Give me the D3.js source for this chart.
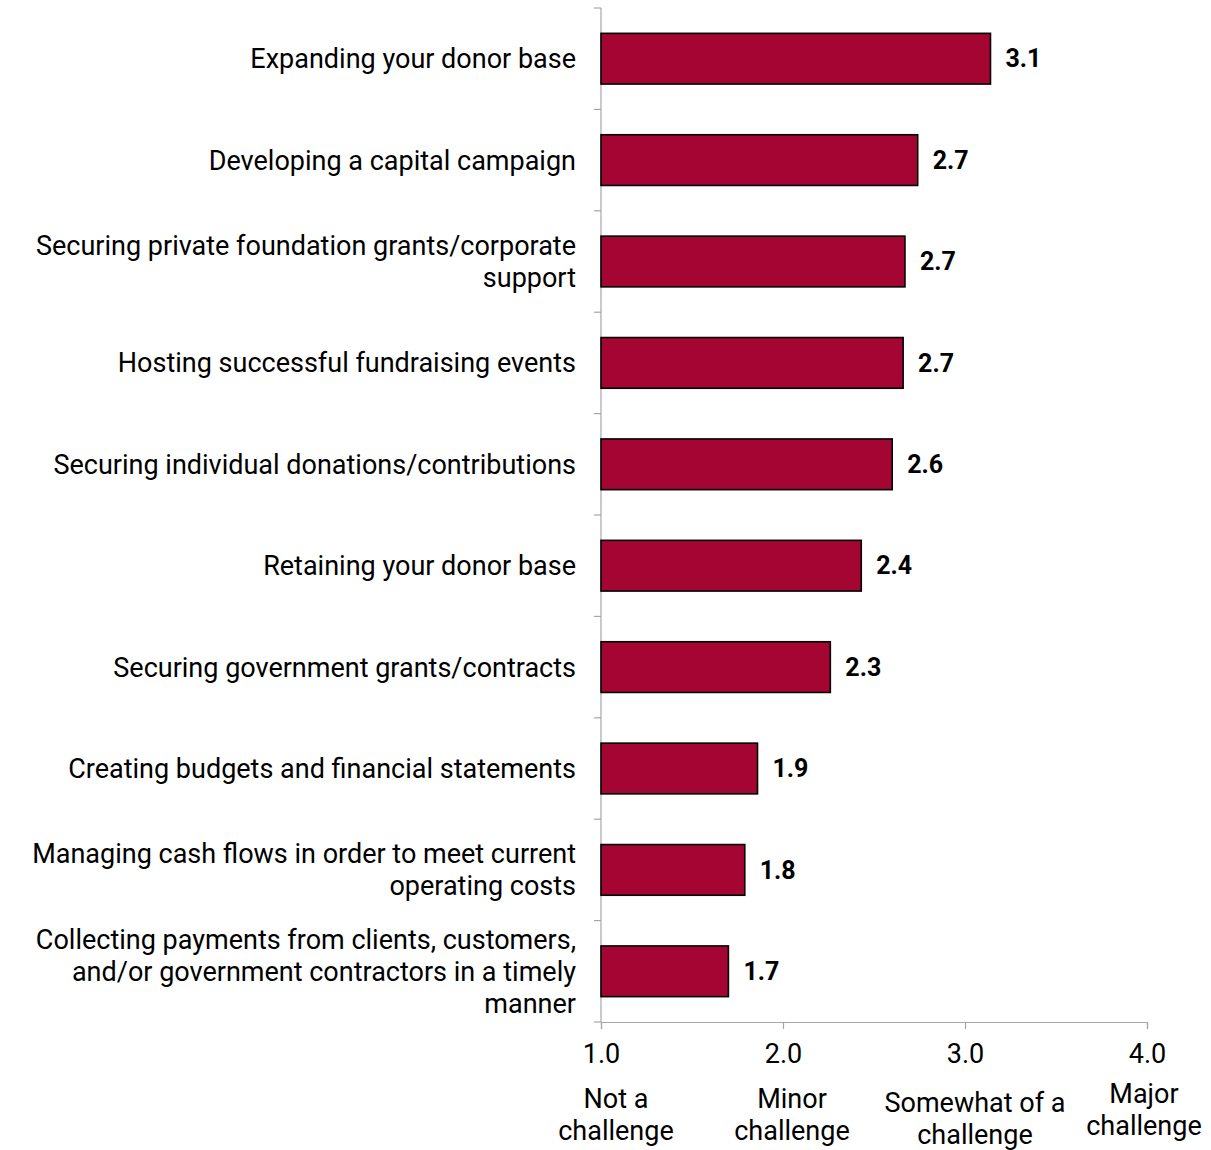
<!DOCTYPE html>
<html>
<head>
<meta charset="utf-8">
<script src="https://cdn.jsdelivr.net/npm/d3@7"></script>
<style>
  body { margin: 0; background: #fff; }
  text { font-family: Roboto, "Noto Sans", sans-serif; fill: #000; }
</style>
</head>
<body>
<div id="chart"></div>
<script>
// Data
const categories = [
    ["Expanding your donor base"],
    ["Developing a capital campaign"],
    ["Securing private foundation grants/corporate", "support"],
    ["Hosting successful fundraising events"],
    ["Securing individual donations/contributions"],
    ["Retaining your donor base"],
    ["Securing government grants/contracts"],
    ["Creating budgets and financial statements"],
    ["Managing cash flows in order to meet current", "operating costs"],
    ["Collecting payments from clients, customers,", "and/or government contractors in a timely", "manner"]
];
const values = [3.14, 2.74, 2.67, 2.66, 2.60, 2.43, 2.26, 1.86, 1.79, 1.70];
const xTicks = [1, 2, 3, 4];
const scaleLabels = [["Not a", "challenge"], ["Minor", "challenge"], ["Somewhat of a", "challenge"], ["Major", "challenge"]];

// layout tweaks for the scale descriptions under the axis
const scaleLabelOffsets = [[15, 1099], [9, 1099], [10, 1103], [-3, 1094]];

const W = 1211, H = 1150;
const plotLeft = 601, plotRight = 1147, plotTop = 8, plotBottom = 1022;
const fontSize = "27px";

const svg = d3.select("#chart")
    .append("svg")
    .attr("width", W)
    .attr("height", H);

const x = d3.scaleLinear().domain([1, 4]).range([plotLeft, plotRight]);
const y = d3.scaleBand().domain(d3.range(categories.length)).range([plotTop, plotBottom]).paddingInner(0.5).paddingOuter(0.25);

// Left axis line with ticks at category boundaries
const axisColor = "#a6a6a6";
svg.append("line")
    .attr("x1", plotLeft).attr("x2", plotLeft)
    .attr("y1", plotTop).attr("y2", plotBottom)
    .attr("stroke", axisColor).attr("stroke-width", 1.2);

const step = (plotBottom - plotTop) / categories.length;
svg.selectAll(".ytick")
    .data(d3.range(categories.length + 1))
    .enter().append("line")
    .attr("x1", plotLeft - 7).attr("x2", plotLeft)
    .attr("y1", d => plotTop + d * step).attr("y2", d => plotTop + d * step)
    .attr("stroke", axisColor).attr("stroke-width", 1.2);

// Bottom axis
const xAxis = d3.axisBottom(x).tickValues(xTicks).tickSize(7).tickFormat(d3.format(".1f"));
const gx = svg.append("g")
    .attr("transform", "translate(0," + plotBottom + ")")
    .call(xAxis);
gx.select(".domain").attr("stroke", axisColor).attr("stroke-width", 1.2);
gx.selectAll(".tick line").attr("stroke", axisColor).attr("stroke-width", 1.2);
gx.selectAll(".tick text")
    .attr("y", 22)
    .attr("dy", "0.71em")
    .style("font-size", fontSize)
    .style("font-family", "Roboto, 'Noto Sans', sans-serif")
    .attr("fill", "#000");

// Bars
svg.selectAll(".bar")
    .data(values)
    .enter().append("rect")
    .attr("class", "bar")
    .attr("x", x(1))
    .attr("y", (d, i) => y(i))
    .attr("width", d => x(d) - x(1))
    .attr("height", y.bandwidth())
    .attr("fill", "#a50533")
    .attr("stroke", "#000")
    .attr("stroke-width", 1.6);

// Value labels
svg.selectAll(".val")
    .data(values)
    .enter().append("text")
    .attr("class", "val")
    .attr("x", d => x(d) + 15)
    .attr("y", (d, i) => y(i) + y.bandwidth() / 2)
    .attr("dy", "0.35em")
    .style("font-size", "25px")
    .style("font-weight", "bold")
    .text(d => d.toFixed(1));

// Category labels
const lineH = 32;
const cat = svg.selectAll(".cat")
    .data(categories)
    .enter().append("text")
    .attr("class", "cat")
    .attr("text-anchor", "end")
    .style("font-size", fontSize);
cat.each(function(lines, i) {
    const cy = y(i) + y.bandwidth() / 2;
    const y0 = cy - (lines.length - 1) * lineH / 2;
    d3.select(this).selectAll("tspan")
        .data(lines)
        .enter().append("tspan")
        .attr("x", plotLeft - 25)
        .attr("y", (d, j) => y0 + j * lineH)
        .attr("dy", "0.35em")
        .text(d => d);
});

// Scale descriptions under the axis
svg.selectAll(".scale")
    .data(scaleLabels)
    .enter().append("text")
    .attr("class", "scale")
    .attr("text-anchor", "middle")
    .style("font-size", fontSize)
    .each(function(lines, i) {
        const off = scaleLabelOffsets[i];
        d3.select(this).selectAll("tspan")
            .data(lines)
            .enter().append("tspan")
            .attr("x", x(xTicks[i]) + off[0])
            .attr("y", (d, j) => off[1] + j * lineH)
            .attr("dy", "0.35em")
            .text(d => d);
    });
</script>
</body>
</html>
